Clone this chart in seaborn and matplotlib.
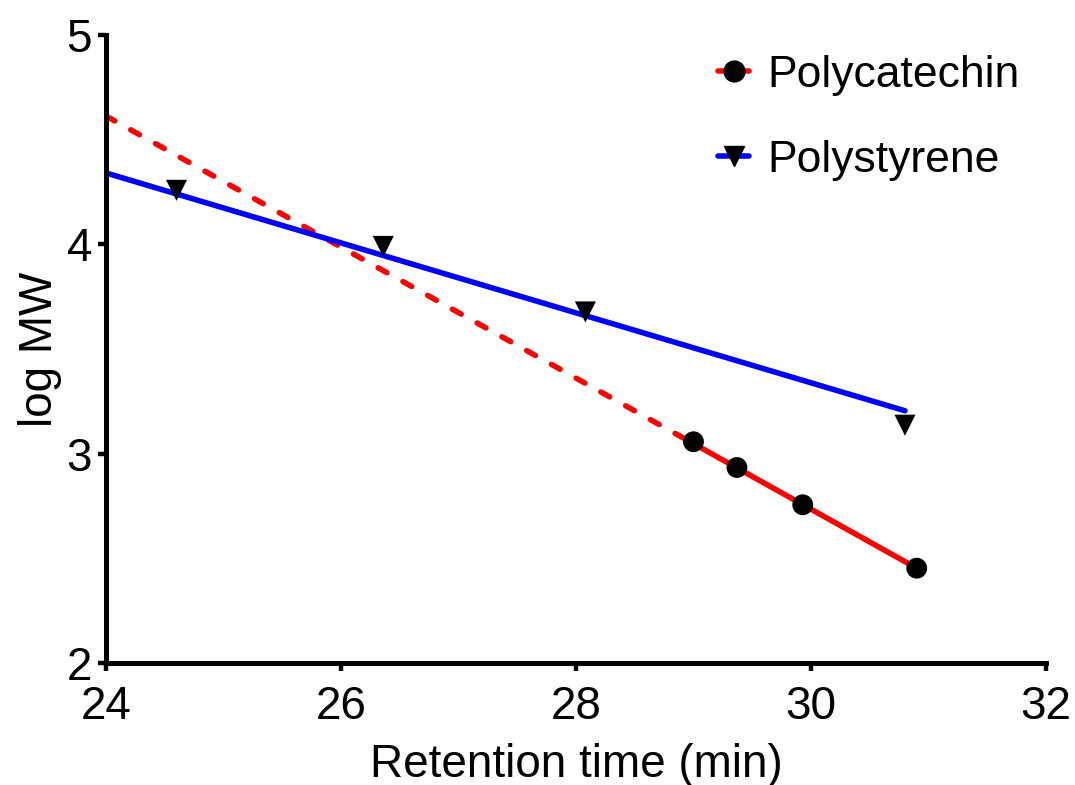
import matplotlib
matplotlib.use("Agg")
import matplotlib.pyplot as plt
import seaborn as sns
import pandas as pd
from matplotlib.lines import Line2D

# ---- data ----
cat_x = [29.00, 29.37, 29.93, 30.90]
cat_y = [3.057, 2.934, 2.756, 2.453]
ps_x = [24.60, 26.36, 28.08, 30.80]
ps_y = [4.258, 3.990, 3.677, 3.136]

# fitted calibration lines (endpoints)
cat_fit_dash_x = [24.0, 29.0]
cat_fit_dash_y = [4.613, 3.048]
cat_fit_solid_x = [29.0, 30.9]
cat_fit_solid_y = [3.048, 2.453]
ps_fit_x = [24.0, 30.8]
ps_fit_y = [4.341, 3.205]

labels = ["Polycatechin", "Polystyrene"]
x_ticks = [24, 26, 28, 30, 32]
y_ticks = [2, 3, 4, 5]

sns.set_style("ticks")
plt.rcParams["font.family"] = ["Liberation Sans", "DejaVu Sans"]
plt.rcParams["text.color"] = "black"
plt.rcParams["axes.labelcolor"] = "black"

fig = plt.figure(figsize=(10.75, 7.85), dpi=100)
ax = fig.add_axes([0.0986, 0.1554, 0.8744, 0.80])

LW = 4.0
sns.lineplot(x=cat_fit_dash_x, y=cat_fit_dash_y, ax=ax, color="#ff0000", lw=LW,
             dashes=False, estimator=None, sort=False)
ax.lines[-1].set_dashes((1.8, 3.3))
ax.lines[-1].set_dash_capstyle("round")
sns.lineplot(x=cat_fit_solid_x, y=cat_fit_solid_y, ax=ax, color="#ff0000", lw=LW,
             estimator=None, sort=False)
sns.lineplot(x=ps_fit_x, y=ps_fit_y, ax=ax, color="#0000ff", lw=LW,
             estimator=None, sort=False)

sns.scatterplot(x=cat_x, y=cat_y, ax=ax, color="black", marker="o", s=225,
                edgecolor="none", zorder=5)
sns.scatterplot(x=ps_x, y=ps_y, ax=ax, color="black", marker="v", s=230,
                edgecolor="none", zorder=5)

ax.set_xlim(24, 32)
ax.set_ylim(2, 5)
ax.set_xticks(x_ticks)
ax.set_yticks(y_ticks)
ax.tick_params(axis="both", labelsize=33, length=6, width=3.2, direction="out",
               color="black", labelcolor="black")
ax.tick_params(axis="x", pad=10)
ax.tick_params(axis="y", pad=4)
for s in ["left", "bottom"]:
    ax.spines[s].set_linewidth(3.6)
    ax.spines[s].set_color("black")
sns.despine(ax=ax)
ax.set_xlabel("Retention time (min)", fontsize=33, labelpad=10, color="black")
ax.set_ylabel("log MW", fontsize=33, labelpad=3, color="black")

handles = [
    Line2D([], [], color="#ff0000", lw=LW, marker="o", markersize=15,
           markerfacecolor="black", markeredgecolor="black"),
    Line2D([], [], color="#0000ff", lw=LW, marker="v", markersize=15,
           markerfacecolor="black", markeredgecolor="black"),
]
leg = ax.legend(handles, labels, loc="upper left", bbox_to_anchor=(0.668, 0.93),
                bbox_transform=fig.transFigure, frameon=False, fontsize=32,
                handlelength=0.7, handletextpad=0.4, labelspacing=0.98,
                borderpad=0, borderaxespad=0)
for t in leg.get_texts():
    t.set_color("black")

fig.savefig("out.png", dpi=100)
